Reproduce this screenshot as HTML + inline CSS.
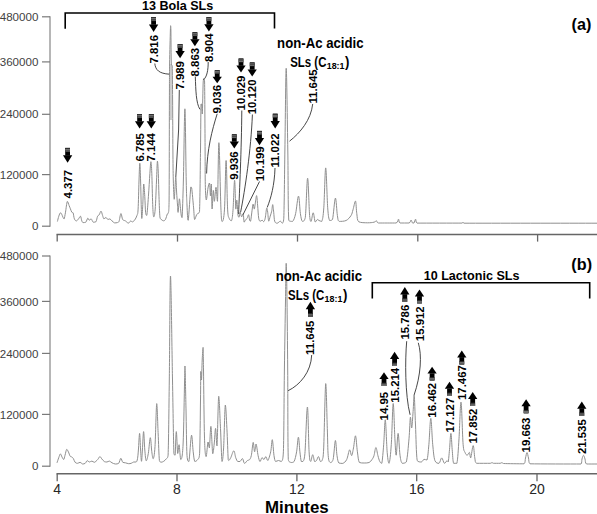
<!DOCTYPE html>
<html><head><meta charset="utf-8"><style>
html,body{margin:0;padding:0;background:#fff;}
body{width:597px;height:514px;overflow:hidden;}
svg{display:block;}
text{font-family:"Liberation Sans", sans-serif;}
</style></head><body>
<svg width="597" height="514" viewBox="0 0 597 514">
<rect width="597" height="514" fill="#fff"/>
<line x1="50" y1="16.2" x2="50" y2="226.79999999999998" stroke="#7a7a7a" stroke-width="1.1"/>
<line x1="42" y1="16.8" x2="50" y2="16.8" stroke="#7a7a7a" stroke-width="1.2"/>
<text x="38.4" y="20.9" text-anchor="end" font-family="Liberation Sans" font-size="11.6" fill="#3f3f3f">480000</text>
<line x1="42" y1="61.9" x2="50" y2="61.9" stroke="#7a7a7a" stroke-width="1.2"/>
<text x="38.4" y="66.0" text-anchor="end" font-family="Liberation Sans" font-size="11.6" fill="#3f3f3f">360000</text>
<line x1="42" y1="114.3" x2="50" y2="114.3" stroke="#7a7a7a" stroke-width="1.2"/>
<text x="38.4" y="118.4" text-anchor="end" font-family="Liberation Sans" font-size="11.6" fill="#3f3f3f">240000</text>
<line x1="42" y1="174.6" x2="50" y2="174.6" stroke="#7a7a7a" stroke-width="1.2"/>
<text x="38.4" y="178.7" text-anchor="end" font-family="Liberation Sans" font-size="11.6" fill="#3f3f3f">120000</text>
<line x1="42" y1="226.2" x2="50" y2="226.2" stroke="#7a7a7a" stroke-width="1.2"/>
<text x="38.4" y="230.3" text-anchor="end" font-family="Liberation Sans" font-size="11.6" fill="#3f3f3f">0</text>
<line x1="50" y1="255.4" x2="50" y2="466.8" stroke="#7a7a7a" stroke-width="1.1"/>
<line x1="42" y1="256.0" x2="50" y2="256.0" stroke="#7a7a7a" stroke-width="1.2"/>
<text x="38.4" y="260.1" text-anchor="end" font-family="Liberation Sans" font-size="11.6" fill="#3f3f3f">480000</text>
<line x1="42" y1="301.4" x2="50" y2="301.4" stroke="#7a7a7a" stroke-width="1.2"/>
<text x="38.4" y="305.5" text-anchor="end" font-family="Liberation Sans" font-size="11.6" fill="#3f3f3f">360000</text>
<line x1="42" y1="353.4" x2="50" y2="353.4" stroke="#7a7a7a" stroke-width="1.2"/>
<text x="38.4" y="357.5" text-anchor="end" font-family="Liberation Sans" font-size="11.6" fill="#3f3f3f">240000</text>
<line x1="42" y1="414.4" x2="50" y2="414.4" stroke="#7a7a7a" stroke-width="1.2"/>
<text x="38.4" y="418.5" text-anchor="end" font-family="Liberation Sans" font-size="11.6" fill="#3f3f3f">120000</text>
<line x1="42" y1="466.2" x2="50" y2="466.2" stroke="#7a7a7a" stroke-width="1.2"/>
<text x="38.4" y="470.3" text-anchor="end" font-family="Liberation Sans" font-size="11.6" fill="#3f3f3f">0</text>
<line x1="56.5" y1="234.4" x2="597" y2="234.4" stroke="#666666" stroke-width="1.5"/>
<line x1="57.2" y1="234.4" x2="57.2" y2="241.6" stroke="#666666" stroke-width="1.3"/>
<line x1="177.5" y1="234.4" x2="177.5" y2="241.6" stroke="#666666" stroke-width="1.3"/>
<line x1="297.5" y1="234.4" x2="297.5" y2="241.6" stroke="#666666" stroke-width="1.3"/>
<line x1="417.8" y1="234.4" x2="417.8" y2="241.6" stroke="#666666" stroke-width="1.3"/>
<line x1="537.6" y1="234.4" x2="537.6" y2="241.6" stroke="#666666" stroke-width="1.3"/>
<line x1="56.5" y1="473.8" x2="597" y2="473.8" stroke="#666666" stroke-width="1.5"/>
<line x1="57.2" y1="473.8" x2="57.2" y2="481.2" stroke="#666666" stroke-width="1.3"/>
<line x1="177.0" y1="473.8" x2="177.0" y2="481.2" stroke="#666666" stroke-width="1.3"/>
<line x1="296.9" y1="473.8" x2="296.9" y2="481.2" stroke="#666666" stroke-width="1.3"/>
<line x1="416.7" y1="473.8" x2="416.7" y2="481.2" stroke="#666666" stroke-width="1.3"/>
<line x1="537.0" y1="473.8" x2="537.0" y2="481.2" stroke="#666666" stroke-width="1.3"/>
<text x="57.2" y="493.6" text-anchor="middle" font-family="Liberation Sans" font-size="14" fill="#262626">4</text>
<text x="177.0" y="493.6" text-anchor="middle" font-family="Liberation Sans" font-size="14" fill="#262626">8</text>
<text x="296.9" y="493.6" text-anchor="middle" font-family="Liberation Sans" font-size="14" fill="#262626">12</text>
<text x="416.7" y="493.6" text-anchor="middle" font-family="Liberation Sans" font-size="14" fill="#262626">16</text>
<text x="537.0" y="493.6" text-anchor="middle" font-family="Liberation Sans" font-size="14" fill="#262626">20</text>
<text x="296.8" y="513" text-anchor="middle" font-family="Liberation Sans" font-weight="bold" font-size="16.9" fill="#000">Minutes</text>
<rect x="169.5" y="64" width="2.4" height="56" fill="#cdcdcd"/>
<path d="M57.40,221.50 C57.64,220.57 58.27,217.72 58.80,216.20 C59.32,214.68 59.89,213.15 60.40,212.80 C60.91,212.80 61.28,213.48 61.70,214.20 C62.12,214.92 62.38,216.08 62.80,216.90 C63.22,217.72 63.63,218.90 64.10,218.90 C64.57,218.08 64.94,215.26 65.50,212.20 C66.06,209.14 66.67,202.57 67.30,201.40 C67.93,201.40 68.56,204.21 69.10,205.50 C69.64,206.79 69.93,207.63 70.40,208.80 C70.87,209.97 71.33,211.50 71.80,212.20 C72.27,212.80 72.64,212.20 73.10,212.80 C73.55,213.97 73.82,217.48 74.40,218.90 C74.98,220.32 75.68,220.90 76.40,220.90 C77.12,220.90 77.78,219.72 78.50,218.90 C79.22,218.08 79.92,216.20 80.50,216.20 C81.08,216.55 81.34,219.78 81.80,220.90 C82.25,222.02 82.40,222.37 83.10,222.60 C83.80,222.60 84.98,222.60 85.80,222.20 C86.62,221.43 87.20,218.55 87.80,218.20 C88.39,218.20 88.61,220.08 89.20,220.20 C89.80,220.20 90.50,218.90 91.20,218.90 C91.90,219.25 92.38,221.69 93.20,222.20 C94.02,222.20 95.13,222.20 95.90,221.80 C96.67,220.75 97.02,217.42 97.60,216.20 C98.18,214.97 98.61,215.69 99.20,214.80 C99.80,213.91 100.41,211.10 101.00,211.10 C101.59,211.22 102.09,214.13 102.60,215.50 C103.11,216.87 103.32,218.55 103.90,218.90 C104.48,218.90 105.20,217.50 105.90,217.50 C106.60,217.60 107.20,219.25 107.90,219.50 C108.60,219.50 109.18,218.90 109.90,218.90 C110.62,219.15 111.18,220.20 112.00,220.90 C112.82,221.60 113.67,222.60 114.60,222.90 C115.53,222.90 116.53,222.84 117.30,222.60 C118.07,222.35 118.37,222.60 119.00,221.50 C119.63,219.91 120.25,213.85 120.90,213.50 C121.55,213.50 121.91,218.21 122.70,219.50 C123.49,220.79 124.40,220.27 125.40,220.90 C126.40,221.53 127.47,223.10 128.40,223.10 C129.33,223.10 130.02,221.11 130.70,220.90 C131.38,220.90 131.60,221.90 132.30,221.90 C133.00,221.74 133.88,221.14 134.70,220.00 C135.52,218.86 136.41,217.31 137.00,215.40 C137.59,213.49 137.75,215.12 138.10,209.10 C138.45,203.08 138.70,189.03 139.00,181.00 C139.30,172.97 139.52,163.20 139.80,163.20 C140.08,163.20 140.35,173.77 140.60,181.00 C140.84,188.23 140.99,197.94 141.20,204.50 C141.41,211.06 141.52,218.50 141.80,218.50 C142.08,218.50 142.47,210.54 142.80,204.50 C143.13,198.46 143.35,185.37 143.70,184.00 C144.05,184.00 144.47,191.75 144.80,196.70 C145.13,201.65 145.25,209.03 145.60,212.30 C145.95,215.40 146.31,215.40 146.80,215.40 C147.29,212.67 147.86,204.07 148.40,196.70 C148.94,189.33 149.46,179.43 149.90,173.30 C150.34,167.18 150.57,161.70 150.90,161.70 C151.23,161.70 151.49,165.81 151.80,173.30 C152.12,180.79 152.37,196.87 152.70,204.50 C153.03,212.13 153.26,216.09 153.70,216.90 C154.14,216.90 154.71,215.38 155.20,209.10 C155.69,202.82 156.12,189.38 156.50,181.00 C156.88,172.62 157.09,162.55 157.40,161.20 C157.72,161.20 158.02,167.09 158.30,173.30 C158.58,179.51 158.72,189.07 159.00,196.70 C159.28,204.33 159.53,212.94 159.90,216.90 C160.27,219.30 160.47,218.62 161.10,219.30 C161.73,219.98 162.73,220.80 163.50,220.80 C164.27,220.80 164.82,220.53 165.50,219.30 C166.18,218.08 166.91,214.85 167.40,213.80 C167.89,213.30 168.00,213.80 168.30,213.30 C168.60,210.89 168.91,213.30 169.10,200.00 C169.29,180.17 169.31,123.80 169.40,100.00 C169.49,76.20 169.42,76.25 169.60,64.00 C169.78,51.75 170.22,36.70 170.40,30.00 C170.58,25.70 170.51,25.70 170.60,25.70 C170.69,25.70 170.78,25.70 170.90,30.00 C171.02,36.70 171.07,57.70 171.30,64.00 C171.53,66.00 171.97,64.00 172.20,66.00 C172.43,72.30 172.48,85.30 172.60,100.00 C172.72,114.70 172.78,136.00 172.90,150.00 C173.02,164.00 173.07,171.37 173.30,180.00 C173.53,188.63 173.90,197.90 174.20,199.30 C174.50,199.30 174.72,191.90 175.00,188.00 C175.28,184.10 175.52,177.00 175.80,177.00 C176.08,177.70 176.30,187.10 176.60,192.00 C176.90,196.90 177.24,201.43 177.50,205.00 C177.76,208.57 177.77,212.40 178.10,212.40 C178.43,211.31 179.02,199.87 179.40,198.80 C179.78,198.80 179.99,203.47 180.30,206.30 C180.62,209.14 180.88,213.02 181.20,215.00 C181.51,216.98 181.72,217.60 182.10,217.60 C182.48,211.47 182.91,199.04 183.40,180.00 C183.89,160.96 184.41,108.80 184.90,108.80 C185.39,108.80 185.83,163.16 186.20,180.00 C186.57,196.84 186.65,197.95 187.00,205.00 C187.35,212.05 187.53,220.30 188.20,220.30 C188.86,217.15 190.19,192.65 190.80,187.00 C191.41,187.00 191.21,187.00 191.70,188.00 C192.19,191.66 193.09,202.39 193.60,207.90 C194.11,213.41 194.09,218.26 194.60,219.50 C195.11,219.50 195.99,216.02 196.50,215.00 C197.01,213.98 196.97,214.28 197.50,213.70 C198.03,213.12 198.97,213.70 199.50,211.70 C200.03,200.55 200.24,168.85 200.50,150.00 C200.76,131.15 200.81,112.05 201.00,104.00 C201.19,104.00 201.37,104.00 201.60,104.00 C201.83,105.75 202.02,114.00 202.30,114.00 C202.58,110.15 202.92,88.21 203.20,82.00 C203.48,78.50 203.66,78.50 203.90,78.50 C204.15,78.50 204.39,78.50 204.60,82.00 C204.81,94.51 204.98,132.06 205.10,150.00 C205.22,167.94 205.10,175.75 205.30,184.50 C205.51,193.25 205.83,199.39 206.30,200.00 C206.77,200.00 207.44,190.97 208.00,188.00 C208.56,185.03 209.06,183.00 209.50,183.00 C209.94,184.40 210.19,195.82 210.50,196.00 C210.81,196.00 211.02,184.00 211.30,184.00 C211.58,186.28 211.75,207.88 212.10,209.00 C212.45,209.00 212.90,191.75 213.30,190.40 C213.70,190.40 213.93,201.30 214.40,201.30 C214.87,200.76 215.46,187.30 216.00,187.30 C216.54,187.30 216.99,201.30 217.50,201.30 C218.01,193.50 218.31,142.70 218.90,142.70 C219.50,143.85 220.32,194.11 220.90,207.90 C221.48,221.50 221.57,221.29 222.20,221.50 C222.83,221.50 223.82,219.78 224.50,209.10 C225.18,198.42 225.56,160.50 226.10,160.50 C226.64,160.50 227.06,198.97 227.60,209.10 C228.14,218.40 228.52,216.37 229.20,218.40 C229.88,220.43 230.84,220.70 231.50,220.70 C232.16,219.26 232.46,217.27 233.00,210.20 C233.54,203.13 234.11,180.49 234.60,180.30 C235.09,180.30 235.42,205.63 235.80,209.10 C236.19,209.10 236.42,200.10 236.80,200.10 C237.19,201.17 237.60,212.21 238.00,215.20 C238.40,217.20 238.73,217.20 239.10,217.20 C239.47,216.67 239.66,212.27 240.10,212.20 C240.54,212.20 241.06,216.54 241.60,216.80 C242.14,216.80 242.76,213.70 243.20,213.70 C243.64,214.64 243.68,221.15 244.10,222.20 C244.52,222.20 245.07,220.36 245.60,219.70 C246.12,219.03 246.57,219.28 247.10,218.40 C247.62,217.53 248.16,214.70 248.60,214.70 C249.04,215.01 249.25,219.06 249.60,220.20 C249.95,221.20 250.16,221.20 250.60,221.20 C251.04,219.45 251.66,213.19 252.10,210.20 C252.54,207.21 252.72,204.29 253.10,204.10 C253.48,204.10 253.92,209.10 254.30,209.10 C254.69,208.92 254.90,205.46 255.30,203.10 C255.70,200.74 256.20,195.60 256.60,195.60 C257.00,195.95 257.23,201.14 257.60,205.10 C257.97,209.06 258.25,215.38 258.70,218.20 C259.15,221.02 259.59,220.85 260.20,221.20 C260.81,221.20 261.59,220.20 262.20,220.20 C262.81,220.29 263.18,221.70 263.70,221.70 C264.22,221.35 264.68,220.58 265.20,218.20 C265.72,215.82 266.26,209.15 266.70,208.10 C267.14,208.10 267.35,209.91 267.70,212.20 C268.05,214.49 268.26,220.50 268.70,221.20 C269.14,221.20 269.68,217.95 270.20,216.20 C270.72,214.45 271.26,213.23 271.70,211.20 C272.14,209.17 272.35,204.60 272.70,204.60 C273.05,204.78 273.35,209.29 273.70,212.20 C274.05,215.10 274.09,219.27 274.70,221.20 C275.31,223.12 276.22,223.20 277.20,223.20 C278.18,223.20 279.41,221.20 280.30,221.20 C281.19,221.20 281.69,223.20 282.30,223.20 C282.91,222.67 283.35,223.20 283.80,218.20 C284.25,205.39 284.48,176.23 284.90,150.00 C285.32,123.77 285.69,68.30 286.20,68.30 C286.71,68.30 287.35,123.37 287.80,150.00 C288.25,176.63 287.96,208.00 288.80,220.50 C289.64,221.40 291.41,221.40 292.60,221.40 C293.79,220.21 294.57,218.13 295.60,213.70 C296.63,209.27 297.66,196.10 298.50,196.10 C299.34,196.10 299.72,209.27 300.40,213.70 C301.08,218.13 301.54,220.74 302.40,221.40 C303.26,221.40 304.39,221.40 305.30,217.50 C306.21,209.94 306.85,178.53 307.60,178.20 C308.35,178.20 308.99,208.04 309.60,215.60 C310.21,221.40 310.47,221.40 311.10,221.40 C311.73,220.91 312.48,212.80 313.20,212.80 C313.92,212.91 314.48,220.83 315.20,222.00 C315.92,222.00 316.63,219.76 317.30,219.50 C317.97,219.50 318.21,220.17 319.00,220.50 C319.79,220.83 320.96,221.40 321.80,221.40 C322.64,219.18 323.12,217.16 323.80,207.80 C324.48,198.44 325.02,167.90 325.70,167.90 C326.38,167.90 327.02,198.60 327.70,207.80 C328.38,217.00 328.76,218.45 329.60,220.50 C330.44,220.50 331.49,220.50 332.50,219.50 C333.51,215.58 334.54,198.78 335.40,198.10 C336.26,198.10 336.72,211.52 337.40,215.60 C338.08,219.68 337.78,220.54 339.30,221.40 C340.82,221.40 344.05,221.40 346.10,220.50 C348.15,219.48 349.79,217.47 351.00,215.60 C352.21,213.73 352.21,212.36 353.00,209.80 C353.79,207.25 354.83,201.00 355.50,201.00 C356.17,201.68 356.22,210.06 356.80,213.70 C357.38,217.34 356.93,220.21 358.80,221.80 C360.67,222.80 364.84,222.73 367.50,222.80 C370.16,222.80 372.43,222.55 374.00,222.20 C375.57,221.85 375.71,220.80 376.50,220.80 C377.29,220.94 376.50,222.62 378.50,223.00 C381.91,223.00 392.50,223.00 396.00,223.00 C398.50,222.34 397.80,219.20 398.50,219.20 C399.20,219.20 398.50,222.34 400.00,223.00 C401.84,223.00 407.07,223.00 409.00,223.00 C410.93,222.47 410.39,220.00 411.00,220.00 C411.61,220.00 411.98,222.47 412.50,223.00 C413.02,223.00 413.46,223.00 414.00,223.00 C414.54,222.34 415.08,219.20 415.60,219.20 C416.12,219.22 415.60,222.42 417.00,223.10 C425.12,223.10 453.95,223.10 462.00,223.10 C463.00,222.94 462.65,222.20 463.00,222.20 C463.35,222.22 463.00,223.02 464.00,223.20 C487.45,223.20 573.73,223.20 597.00,223.20" fill="none" stroke="#8f8f8f" stroke-width="1.0" stroke-linejoin="round"/>
<path d="M57.00,462.80 C57.30,461.93 58.11,459.36 58.70,457.80 C59.30,456.24 59.82,454.04 60.40,453.90 C60.98,453.90 61.42,456.02 62.00,457.00 C62.58,457.98 63.18,459.50 63.70,459.50 C64.23,459.20 64.47,457.07 65.00,455.30 C65.53,453.53 66.11,450.00 66.70,449.40 C67.30,449.40 67.81,450.73 68.40,451.90 C69.00,453.07 69.50,455.21 70.10,456.10 C70.69,456.99 71.22,456.56 71.80,457.00 C72.38,457.44 72.82,457.67 73.40,458.60 C73.98,459.53 74.36,461.48 75.10,462.30 C75.83,463.12 76.72,463.30 77.60,463.30 C78.47,463.30 79.22,462.30 80.10,462.30 C80.97,462.42 81.71,463.82 82.60,464.00 C83.49,464.00 84.39,463.89 85.20,463.30 C86.01,462.71 86.48,460.83 87.20,460.60 C87.92,460.60 88.48,461.91 89.30,462.00 C90.12,462.00 91.01,461.10 91.90,461.10 C92.79,461.15 93.39,462.30 94.40,462.30 C95.42,462.02 96.74,460.50 97.70,459.50 C98.66,458.50 99.17,456.69 99.90,456.60 C100.64,456.60 101.11,458.12 101.90,459.00 C102.69,459.88 103.53,461.08 104.40,461.60 C105.28,462.00 106.03,462.00 106.90,462.00 C107.78,461.91 108.51,461.10 109.40,461.10 C110.29,461.24 110.97,462.29 112.00,462.80 C113.03,463.31 114.13,463.91 115.30,464.00 C116.47,464.00 117.74,464.00 118.70,463.30 C119.66,462.30 120.08,458.48 120.80,458.30 C121.52,458.30 121.99,461.51 122.80,462.30 C123.61,462.80 124.37,462.56 125.40,462.80 C126.43,463.05 127.68,463.61 128.70,463.70 C129.71,463.70 130.32,463.60 131.20,463.30 C132.07,463.00 132.82,462.23 133.70,462.00 C134.57,462.00 135.53,462.00 136.20,462.00 C136.86,461.42 137.12,460.80 137.50,458.70 C137.88,456.60 138.03,454.43 138.40,450.00 C138.77,445.57 139.22,433.40 139.60,433.40 C139.98,433.40 140.27,445.12 140.60,450.00 C140.93,454.88 141.19,461.30 141.50,461.30 C141.81,461.30 142.03,455.20 142.40,450.00 C142.77,444.80 143.18,431.60 143.60,431.60 C144.02,431.60 144.34,444.89 144.80,450.00 C145.26,455.11 145.59,460.19 146.20,460.80 C146.81,460.80 147.58,457.54 148.30,453.50 C149.02,449.46 149.69,438.01 150.30,437.70 C150.91,437.70 151.29,448.02 151.80,451.70 C152.31,455.38 152.64,458.70 153.20,458.70 C153.76,457.79 154.39,456.14 155.00,446.50 C155.61,436.86 156.16,406.05 156.70,403.60 C157.24,403.60 157.63,422.54 158.10,432.50 C158.57,442.46 158.88,455.30 159.40,460.50 C159.93,462.20 160.35,462.06 161.10,462.20 C161.85,462.20 162.77,461.91 163.70,461.30 C164.63,460.69 165.63,459.77 166.40,458.70 C167.17,457.63 167.59,458.70 168.10,455.20 C168.61,441.43 168.88,411.36 169.30,380.00 C169.72,348.64 169.94,276.00 170.50,276.00 C171.06,276.00 171.91,348.94 172.50,380.00 C173.09,411.06 173.44,440.34 173.90,453.50 C174.36,455.20 174.68,455.20 175.10,455.20 C175.52,451.37 175.84,431.90 176.30,431.60 C176.76,431.60 177.21,451.21 177.70,453.50 C178.19,453.50 178.56,444.70 179.10,444.70 C179.64,445.75 180.10,459.50 180.80,459.50 C181.50,459.38 182.44,457.91 183.10,444.00 C183.76,430.09 184.27,393.65 184.60,380.00 C184.93,366.35 184.75,366.00 185.00,366.00 C185.25,371.06 185.65,393.22 186.00,408.90 C186.35,424.58 186.49,446.40 187.00,455.60 C187.51,461.50 188.11,461.50 188.90,461.50 C189.69,457.93 190.75,436.90 191.50,435.20 C192.25,435.20 192.62,447.20 193.20,451.80 C193.78,456.40 194.01,460.15 194.80,461.50 C195.59,461.50 196.86,460.87 197.70,459.50 C198.54,458.13 199.11,459.50 199.60,453.70 C200.09,443.29 200.29,414.40 200.50,400.00 C200.71,385.60 200.62,374.90 200.80,371.40 C200.98,371.40 201.25,380.00 201.50,380.00 C201.75,378.00 201.92,365.70 202.20,360.00 C202.48,354.30 202.87,347.40 203.10,347.40 C203.33,349.15 203.25,354.13 203.50,370.00 C203.75,385.87 204.04,422.94 204.50,438.10 C204.96,453.26 205.49,455.92 206.10,456.60 C206.71,456.60 207.42,443.52 208.00,442.00 C208.58,442.00 208.89,447.90 209.40,447.90 C209.91,445.17 210.32,426.40 210.90,426.40 C211.48,427.41 212.12,450.62 212.70,453.70 C213.28,453.70 213.69,448.43 214.20,444.00 C214.71,439.57 215.11,428.40 215.60,428.40 C216.09,428.73 216.46,445.90 217.00,445.90 C217.54,440.28 218.09,399.36 218.70,396.30 C219.31,396.30 219.92,416.99 220.50,428.40 C221.08,439.81 221.46,458.09 222.00,461.50 C222.54,461.50 223.02,457.79 223.60,447.90 C224.18,438.01 224.72,408.41 225.30,405.00 C225.88,405.00 226.39,418.86 226.90,428.40 C227.41,437.94 227.85,453.88 228.20,459.50 C228.55,460.50 228.44,460.50 228.90,460.50 C229.36,460.17 229.94,459.30 230.80,457.60 C231.66,455.90 232.94,450.80 233.80,450.80 C234.66,450.80 235.02,455.73 235.70,457.60 C236.38,459.47 236.95,460.82 237.70,461.50 C238.45,461.50 239.16,461.50 240.00,461.50 C240.84,460.99 241.71,458.60 242.50,458.60 C243.29,458.93 243.64,463.07 244.50,463.40 C245.36,463.40 246.56,461.11 247.40,460.50 C248.24,459.90 248.62,460.50 249.30,459.90 C249.98,459.04 250.62,458.66 251.30,455.60 C251.98,452.54 252.62,443.06 253.20,442.40 C253.78,442.40 254.09,451.52 254.60,451.80 C255.11,451.80 255.49,444.00 256.10,444.00 C256.71,444.67 257.42,452.54 258.10,455.60 C258.78,458.66 259.32,461.15 260.00,461.50 C260.68,461.50 261.32,457.95 262.00,457.60 C262.68,457.60 263.22,459.50 263.90,459.50 C264.58,459.32 265.22,456.60 265.90,456.60 C266.58,456.78 266.96,460.50 267.80,460.50 C268.64,459.66 269.91,455.44 270.70,451.80 C271.49,448.16 271.72,439.70 272.30,439.70 C272.88,440.37 273.42,451.79 274.00,455.60 C274.58,459.42 274.81,460.64 275.60,461.50 C276.39,461.50 277.49,460.50 278.50,460.50 C279.51,460.50 280.54,461.50 281.40,461.50 C282.26,459.98 282.88,461.50 283.40,451.80 C283.92,435.79 284.03,396.56 284.40,370.00 C284.77,343.44 285.19,318.67 285.50,300.00 C285.81,281.33 285.94,263.30 286.20,263.30 C286.46,263.30 286.74,281.33 287.00,300.00 C287.26,318.67 287.47,342.09 287.70,370.00 C287.93,397.91 287.70,443.31 288.30,459.50 C288.91,462.50 290.19,462.15 291.20,462.50 C292.21,462.50 293.16,462.50 294.10,461.50 C295.05,459.63 295.85,456.05 296.60,451.80 C297.35,447.55 297.82,437.20 298.40,437.20 C298.98,437.20 299.39,447.55 299.90,451.80 C300.41,456.05 300.78,459.80 301.30,461.50 C301.82,461.50 302.27,461.50 302.90,461.50 C303.53,460.13 304.11,461.50 304.90,453.70 C305.69,444.16 306.66,407.33 307.40,407.00 C308.13,407.00 308.52,442.26 309.10,451.80 C309.68,461.34 310.07,460.99 310.70,461.50 C311.33,461.50 312.02,454.70 312.70,454.70 C313.38,454.70 313.94,460.49 314.60,461.50 C315.27,461.50 315.82,461.36 316.50,460.50 C317.18,459.64 317.82,456.60 318.50,456.60 C319.18,456.78 319.72,460.99 320.40,461.50 C321.08,461.50 321.82,461.50 322.40,459.50 C322.98,457.12 323.12,459.50 323.70,447.90 C324.28,434.62 325.07,387.01 325.70,383.60 C326.33,383.60 326.86,415.80 327.30,428.40 C327.74,441.00 327.69,449.63 328.20,455.60 C328.71,461.57 329.34,461.82 330.20,462.50 C331.06,462.50 332.19,462.50 333.10,459.50 C334.01,455.65 334.72,441.18 335.40,440.50 C336.08,440.50 336.39,451.66 337.00,455.60 C337.61,459.54 337.88,461.63 338.90,463.00 C339.91,463.40 341.44,463.40 342.80,463.40 C344.17,462.79 345.51,461.88 346.70,459.50 C347.89,457.12 348.74,450.48 349.60,449.80 C350.46,449.80 350.92,455.60 351.60,455.60 C352.28,455.27 352.82,451.36 353.50,447.90 C354.18,444.44 354.82,435.80 355.50,435.80 C356.18,436.48 356.72,447.13 357.40,451.80 C358.08,456.47 358.21,460.54 359.40,462.50 C360.59,463.00 362.50,463.00 364.20,463.00 C365.90,463.00 367.74,463.00 369.10,462.50 C370.47,461.89 371.14,460.71 372.00,459.50 C372.86,458.29 373.32,457.70 374.00,455.60 C374.68,453.50 375.22,447.50 375.90,447.50 C376.58,447.50 377.22,453.15 377.90,455.60 C378.58,458.05 379.12,460.15 379.80,461.50 C380.48,462.85 381.12,463.30 381.80,463.30 C382.48,460.29 383.09,451.91 383.70,444.30 C384.31,436.69 384.69,419.80 385.30,419.80 C385.91,421.22 386.53,444.79 387.20,452.40 C387.87,460.01 388.38,463.30 389.10,463.30 C389.82,461.88 390.58,454.76 391.30,444.30 C392.02,433.84 392.57,404.46 393.20,403.50 C393.83,403.50 394.38,429.75 394.90,438.80 C395.42,447.85 395.64,455.20 396.20,455.20 C396.76,454.25 397.44,433.40 398.10,433.40 C398.77,433.40 399.28,449.97 400.00,455.20 C400.72,460.43 401.10,462.11 402.20,463.30 C403.30,463.30 405.11,463.30 406.30,462.00 C407.49,457.71 408.28,446.66 409.00,438.80 C409.72,430.94 409.93,418.99 410.40,417.10 C410.87,417.10 411.23,428.00 411.70,428.00 C412.17,427.04 412.66,417.32 413.10,411.60 C413.54,405.88 413.78,395.30 414.20,395.30 C414.62,397.64 414.98,413.57 415.50,425.00 C416.02,436.43 416.19,454.12 417.20,460.60 C418.21,462.00 420.11,462.00 421.30,462.00 C422.49,461.77 423.00,459.65 424.00,459.30 C425.00,459.30 426.14,460.00 427.00,460.00 C427.86,457.38 428.23,451.58 428.90,444.30 C429.56,437.02 430.13,418.40 430.80,418.40 C431.47,418.40 431.98,436.92 432.70,444.30 C433.42,451.69 433.80,457.28 434.90,460.60 C436.00,463.30 437.81,463.30 439.00,463.30 C440.19,462.83 440.75,457.90 441.70,457.90 C442.64,457.90 443.45,462.83 444.40,463.30 C445.34,463.30 446.44,460.83 447.10,460.60 C447.77,460.60 447.78,462.00 448.20,462.00 C448.62,460.09 449.03,454.70 449.50,449.70 C449.97,444.69 450.43,433.40 450.90,433.40 C451.37,433.40 451.73,444.47 452.20,449.70 C452.67,454.93 452.78,460.92 453.60,463.30 C454.42,463.30 455.95,463.30 456.90,463.30 C457.84,459.01 458.28,449.51 459.00,438.80 C459.72,428.09 460.28,402.10 461.00,402.10 C461.72,403.06 462.40,435.50 463.10,444.30 C463.80,452.40 464.28,450.49 465.00,452.40 C465.72,454.31 466.43,455.20 467.20,455.20 C467.97,455.20 468.79,452.40 469.40,452.40 C470.01,452.87 470.03,457.90 470.70,457.90 C471.37,456.71 472.48,445.60 473.20,445.60 C473.92,445.60 474.19,454.80 474.80,457.90 C475.41,461.00 474.80,462.36 476.70,463.30 C479.41,463.30 487.62,463.30 490.30,463.30 C492.00,463.16 491.44,462.50 492.00,462.50 C492.56,462.50 492.10,463.16 493.50,463.30 C494.90,463.30 498.51,463.30 500.00,463.30 C501.49,463.18 501.39,462.60 502.00,462.60 C502.61,462.64 502.00,463.29 503.50,463.50 C507.35,463.71 520.15,463.80 524.00,463.80 C525.50,462.84 524.98,459.96 525.50,458.00 C526.02,456.04 526.48,452.60 527.00,452.60 C527.52,452.60 527.98,456.04 528.50,458.00 C529.02,459.96 528.50,462.75 530.00,463.80 C539.19,464.00 571.90,464.00 581.00,464.00 C582.00,463.16 581.56,460.52 582.00,459.00 C582.44,457.48 582.98,455.30 583.50,455.30 C584.02,455.30 584.48,457.48 585.00,459.00 C585.52,460.52 585.00,463.12 586.50,464.00 C588.60,464.00 595.16,464.00 597.00,464.00" fill="none" stroke="#8f8f8f" stroke-width="1.0" stroke-linejoin="round"/>
<path d="M65.2,28.8 V13 H274.5 V28.5" fill="none" stroke="#000" stroke-width="1.6"/>
<text x="177.6" y="9.8" text-anchor="middle" font-family="Liberation Sans" font-weight="bold" font-size="12.6" fill="#000">13 Bola SLs</text>
<text x="581.5" y="29.6" text-anchor="middle" font-family="Liberation Sans" font-weight="bold" font-size="16.2" fill="#000">(a)</text>
<text x="277.1" y="48.1" font-family="Liberation Sans" font-weight="bold" fill="#000" font-size="14.1" textLength="86.4" lengthAdjust="spacingAndGlyphs">non-Ac acidic</text><text x="290.2" y="67.2" font-family="Liberation Sans" font-weight="bold" fill="#000" font-size="14.1" textLength="36.2" lengthAdjust="spacingAndGlyphs">SLs (C</text><text x="326.7" y="68.5" font-family="Liberation Sans" font-weight="bold" fill="#000" font-size="9.2" textLength="17.8" lengthAdjust="spacingAndGlyphs">18:1</text><text x="345.0" y="67.2" font-family="Liberation Sans" font-weight="bold" fill="#000" font-size="14.1" textLength="4.4" lengthAdjust="spacingAndGlyphs">)</text>
<rect x="65.20" y="147.90" width="4.8" height="7.75" fill="#000"/><rect x="65.20" y="147.90" width="4.8" height="4.17" fill="#303030"/><rect x="65.20" y="149.15" width="4.8" height="0.7" fill="#8a8a8a"/><rect x="65.20" y="150.61" width="4.8" height="0.7" fill="#8a8a8a"/><polygon points="62.95,155.35 72.25,155.35 67.60,162.80" fill="#000"/>
<text transform="translate(71.68,198.40) rotate(-90)" font-family="Liberation Sans" font-weight="bold" font-size="11.4" fill="#000">4.377</text>
<rect x="137.20" y="114.00" width="4.8" height="7.60" fill="#000"/><rect x="137.20" y="114.00" width="4.8" height="4.09" fill="#303030"/><rect x="137.20" y="115.23" width="4.8" height="0.7" fill="#8a8a8a"/><rect x="137.20" y="116.66" width="4.8" height="0.7" fill="#8a8a8a"/><polygon points="134.95,121.30 144.25,121.30 139.60,128.60" fill="#000"/>
<text transform="translate(143.68,161.60) rotate(-90)" font-family="Liberation Sans" font-weight="bold" font-size="11.4" fill="#000">6.785</text>
<rect x="148.90" y="114.00" width="4.8" height="7.60" fill="#000"/><rect x="148.90" y="114.00" width="4.8" height="4.09" fill="#303030"/><rect x="148.90" y="115.23" width="4.8" height="0.7" fill="#8a8a8a"/><rect x="148.90" y="116.66" width="4.8" height="0.7" fill="#8a8a8a"/><polygon points="146.65,121.30 155.95,121.30 151.30,128.60" fill="#000"/>
<text transform="translate(155.38,161.60) rotate(-90)" font-family="Liberation Sans" font-weight="bold" font-size="11.4" fill="#000">7.144</text>
<rect x="151.20" y="17.00" width="4.8" height="7.75" fill="#000"/><rect x="151.20" y="17.00" width="4.8" height="4.17" fill="#303030"/><rect x="151.20" y="18.25" width="4.8" height="0.7" fill="#8a8a8a"/><rect x="151.20" y="19.71" width="4.8" height="0.7" fill="#8a8a8a"/><polygon points="148.95,24.45 158.25,24.45 153.60,31.90" fill="#000"/>
<text transform="translate(157.68,63.50) rotate(-90)" font-family="Liberation Sans" font-weight="bold" font-size="11.4" fill="#000">7.816</text>
<rect x="177.70" y="44.00" width="4.8" height="7.40" fill="#000"/><rect x="177.70" y="44.00" width="4.8" height="3.98" fill="#303030"/><rect x="177.70" y="45.19" width="4.8" height="0.7" fill="#8a8a8a"/><rect x="177.70" y="46.58" width="4.8" height="0.7" fill="#8a8a8a"/><polygon points="175.45,51.10 184.75,51.10 180.10,58.20" fill="#000"/>
<text transform="translate(184.18,89.60) rotate(-90)" font-family="Liberation Sans" font-weight="bold" font-size="11.4" fill="#000">7.989</text>
<rect x="192.50" y="32.20" width="4.8" height="7.30" fill="#000"/><rect x="192.50" y="32.20" width="4.8" height="3.92" fill="#303030"/><rect x="192.50" y="33.38" width="4.8" height="0.7" fill="#8a8a8a"/><rect x="192.50" y="34.75" width="4.8" height="0.7" fill="#8a8a8a"/><polygon points="190.25,39.20 199.55,39.20 194.90,46.20" fill="#000"/>
<text transform="translate(198.98,76.40) rotate(-90)" font-family="Liberation Sans" font-weight="bold" font-size="11.4" fill="#000">8.863</text>
<rect x="206.50" y="17.00" width="4.8" height="7.60" fill="#000"/><rect x="206.50" y="17.00" width="4.8" height="4.09" fill="#303030"/><rect x="206.50" y="18.23" width="4.8" height="0.7" fill="#8a8a8a"/><rect x="206.50" y="19.66" width="4.8" height="0.7" fill="#8a8a8a"/><polygon points="204.25,24.30 213.55,24.30 208.90,31.60" fill="#000"/>
<text transform="translate(212.98,61.90) rotate(-90)" font-family="Liberation Sans" font-weight="bold" font-size="11.4" fill="#000">8.904</text>
<rect x="214.80" y="70.10" width="4.8" height="6.90" fill="#000"/><rect x="214.80" y="70.10" width="4.8" height="3.70" fill="#303030"/><rect x="214.80" y="71.21" width="4.8" height="0.7" fill="#8a8a8a"/><rect x="214.80" y="72.50" width="4.8" height="0.7" fill="#8a8a8a"/><polygon points="212.55,76.70 221.85,76.70 217.20,83.30" fill="#000"/>
<text transform="translate(221.28,113.50) rotate(-90)" font-family="Liberation Sans" font-weight="bold" font-size="11.4" fill="#000">9.036</text>
<rect x="231.90" y="134.30" width="4.8" height="7.45" fill="#000"/><rect x="231.90" y="134.30" width="4.8" height="4.00" fill="#303030"/><rect x="231.90" y="135.50" width="4.8" height="0.7" fill="#8a8a8a"/><rect x="231.90" y="136.90" width="4.8" height="0.7" fill="#8a8a8a"/><polygon points="229.65,141.45 238.95,141.45 234.30,148.60" fill="#000"/>
<text transform="translate(238.38,179.80) rotate(-90)" font-family="Liberation Sans" font-weight="bold" font-size="11.4" fill="#000">9.936</text>
<rect x="238.60" y="58.50" width="4.8" height="7.30" fill="#000"/><rect x="238.60" y="58.50" width="4.8" height="3.92" fill="#303030"/><rect x="238.60" y="59.68" width="4.8" height="0.7" fill="#8a8a8a"/><rect x="238.60" y="61.05" width="4.8" height="0.7" fill="#8a8a8a"/><polygon points="236.35,65.50 245.65,65.50 241.00,72.50" fill="#000"/>
<text transform="translate(245.08,110.40) rotate(-90)" font-family="Liberation Sans" font-weight="bold" font-size="11.4" fill="#000">10.029</text>
<rect x="249.80" y="62.40" width="4.8" height="7.30" fill="#000"/><rect x="249.80" y="62.40" width="4.8" height="3.92" fill="#303030"/><rect x="249.80" y="63.58" width="4.8" height="0.7" fill="#8a8a8a"/><rect x="249.80" y="64.95" width="4.8" height="0.7" fill="#8a8a8a"/><polygon points="247.55,69.40 256.85,69.40 252.20,76.40" fill="#000"/>
<text transform="translate(256.28,114.30) rotate(-90)" font-family="Liberation Sans" font-weight="bold" font-size="11.4" fill="#000">10.120</text>
<rect x="257.10" y="130.90" width="4.8" height="7.45" fill="#000"/><rect x="257.10" y="130.90" width="4.8" height="4.00" fill="#303030"/><rect x="257.10" y="132.10" width="4.8" height="0.7" fill="#8a8a8a"/><rect x="257.10" y="133.50" width="4.8" height="0.7" fill="#8a8a8a"/><polygon points="254.85,138.05 264.15,138.05 259.50,145.20" fill="#000"/>
<text transform="translate(263.58,181.20) rotate(-90)" font-family="Liberation Sans" font-weight="bold" font-size="11.4" fill="#000">10.199</text>
<rect x="272.80" y="113.70" width="4.8" height="7.65" fill="#000"/><rect x="272.80" y="113.70" width="4.8" height="4.12" fill="#303030"/><rect x="272.80" y="114.93" width="4.8" height="0.7" fill="#8a8a8a"/><rect x="272.80" y="116.38" width="4.8" height="0.7" fill="#8a8a8a"/><polygon points="270.55,121.05 279.85,121.05 275.20,128.40" fill="#000"/>
<text transform="translate(279.28,167.60) rotate(-90)" font-family="Liberation Sans" font-weight="bold" font-size="11.4" fill="#000">11.022</text>
<text transform="translate(316.78,103.60) rotate(-90)" font-family="Liberation Sans" font-weight="bold" font-size="11.4" fill="#000">11.645</text>
<path d="M154.8,63.5 C155.5,70 159,73.5 169.4,74.2" fill="none" stroke="#333" stroke-width="0.9"/>
<path d="M179.3,90 L178.6,130 L175.8,177" fill="none" stroke="#333" stroke-width="0.9"/>
<path d="M195.3,76.5 C195.8,90 196,103 199.9,109.3" fill="none" stroke="#333" stroke-width="0.9"/>
<path d="M208.2,62 C208.2,70 207,77 203.4,79.8" fill="none" stroke="#333" stroke-width="0.9"/>
<path d="M217.2,113.8 C212,130 207,150 206.6,173.5" fill="none" stroke="#333" stroke-width="0.9"/>
<path d="M241.8,110.5 C241.5,150 239.5,190 238.6,214" fill="none" stroke="#333" stroke-width="0.9"/>
<path d="M252.4,114.5 C251,150 245,190 240.6,212.2" fill="none" stroke="#333" stroke-width="0.9"/>
<path d="M259.5,181.5 L243.1,214.5" fill="none" stroke="#333" stroke-width="0.9"/>
<path d="M275.0,168 C274.5,185 271,198 267.2,207.5" fill="none" stroke="#333" stroke-width="0.9"/>
<path d="M312.7,104 C311,120 300,133 289.5,141.2" fill="none" stroke="#333" stroke-width="0.9"/>
<path d="M372.3,298.4 V282.8 H589.7 V298.6" fill="none" stroke="#000" stroke-width="1.6"/>
<text x="471.6" y="280.0" text-anchor="middle" font-family="Liberation Sans" font-weight="bold" font-size="12.6" fill="#000">10 Lactonic SLs</text>
<text x="581.7" y="270.2" text-anchor="middle" font-family="Liberation Sans" font-weight="bold" font-size="16.2" fill="#000">(b)</text>
<text x="275.7" y="281.1" font-family="Liberation Sans" font-weight="bold" fill="#000" font-size="14.1" textLength="86.4" lengthAdjust="spacingAndGlyphs">non-Ac acidic</text><text x="288.1" y="300.2" font-family="Liberation Sans" font-weight="bold" fill="#000" font-size="14.1" textLength="36.2" lengthAdjust="spacingAndGlyphs">SLs (C</text><text x="324.6" y="301.5" font-family="Liberation Sans" font-weight="bold" fill="#000" font-size="9.2" textLength="17.8" lengthAdjust="spacingAndGlyphs">18:1</text><text x="342.9" y="300.2" font-family="Liberation Sans" font-weight="bold" fill="#000" font-size="14.1" textLength="4.4" lengthAdjust="spacingAndGlyphs">)</text>
<polygon points="305.75,309.30 315.05,309.30 310.40,301.80" fill="#000"/><rect x="308.00" y="309.00" width="4.8" height="7.80" fill="#000"/><rect x="308.00" y="313.20" width="4.8" height="3.60" fill="#303030"/><rect x="308.00" y="314.46" width="4.8" height="0.7" fill="#8a8a8a"/><rect x="308.00" y="315.72" width="4.8" height="0.7" fill="#8a8a8a"/>
<text transform="translate(314.48,354.90) rotate(-90)" font-family="Liberation Sans" font-weight="bold" font-size="11.4" fill="#000">11.645</text>
<polygon points="379.35,379.10 388.65,379.10 384.00,372.20" fill="#000"/><rect x="381.60" y="378.80" width="4.8" height="7.20" fill="#000"/><rect x="381.60" y="382.69" width="4.8" height="3.31" fill="#303030"/><rect x="381.60" y="383.85" width="4.8" height="0.7" fill="#8a8a8a"/><rect x="381.60" y="385.01" width="4.8" height="0.7" fill="#8a8a8a"/>
<text transform="translate(388.08,420.40) rotate(-90)" font-family="Liberation Sans" font-weight="bold" font-size="11.4" fill="#000">14.95</text>
<polygon points="389.95,358.90 399.25,358.90 394.60,351.80" fill="#000"/><rect x="392.20" y="358.60" width="4.8" height="7.40" fill="#000"/><rect x="392.20" y="362.59" width="4.8" height="3.41" fill="#303030"/><rect x="392.20" y="363.78" width="4.8" height="0.7" fill="#8a8a8a"/><rect x="392.20" y="364.98" width="4.8" height="0.7" fill="#8a8a8a"/>
<text transform="translate(398.68,402.70) rotate(-90)" font-family="Liberation Sans" font-weight="bold" font-size="11.4" fill="#000">15.214</text>
<polygon points="400.15,294.50 409.45,294.50 404.80,287.10" fill="#000"/><rect x="402.40" y="294.20" width="4.8" height="7.70" fill="#000"/><rect x="402.40" y="298.35" width="4.8" height="3.55" fill="#303030"/><rect x="402.40" y="299.59" width="4.8" height="0.7" fill="#8a8a8a"/><rect x="402.40" y="300.83" width="4.8" height="0.7" fill="#8a8a8a"/>
<text transform="translate(408.88,339.60) rotate(-90)" font-family="Liberation Sans" font-weight="bold" font-size="11.4" fill="#000">15.786</text>
<polygon points="414.85,296.40 424.15,296.40 419.50,289.40" fill="#000"/><rect x="417.10" y="296.10" width="4.8" height="7.30" fill="#000"/><rect x="417.10" y="300.04" width="4.8" height="3.36" fill="#303030"/><rect x="417.10" y="301.22" width="4.8" height="0.7" fill="#8a8a8a"/><rect x="417.10" y="302.39" width="4.8" height="0.7" fill="#8a8a8a"/>
<text transform="translate(423.58,341.20) rotate(-90)" font-family="Liberation Sans" font-weight="bold" font-size="11.4" fill="#000">15.912</text>
<polygon points="427.45,373.60 436.75,373.60 432.10,366.70" fill="#000"/><rect x="429.70" y="373.30" width="4.8" height="7.20" fill="#000"/><rect x="429.70" y="377.19" width="4.8" height="3.31" fill="#303030"/><rect x="429.70" y="378.35" width="4.8" height="0.7" fill="#8a8a8a"/><rect x="429.70" y="379.51" width="4.8" height="0.7" fill="#8a8a8a"/>
<text transform="translate(436.18,417.70) rotate(-90)" font-family="Liberation Sans" font-weight="bold" font-size="11.4" fill="#000">16.462</text>
<polygon points="444.85,388.85 454.15,388.85 449.50,381.70" fill="#000"/><rect x="447.10" y="388.55" width="4.8" height="7.45" fill="#000"/><rect x="447.10" y="392.57" width="4.8" height="3.43" fill="#303030"/><rect x="447.10" y="393.77" width="4.8" height="0.7" fill="#8a8a8a"/><rect x="447.10" y="394.97" width="4.8" height="0.7" fill="#8a8a8a"/>
<text transform="translate(453.58,432.60) rotate(-90)" font-family="Liberation Sans" font-weight="bold" font-size="11.4" fill="#000">17.127</text>
<polygon points="457.15,357.45 466.45,357.45 461.80,350.40" fill="#000"/><rect x="459.40" y="357.15" width="4.8" height="7.35" fill="#000"/><rect x="459.40" y="361.12" width="4.8" height="3.38" fill="#303030"/><rect x="459.40" y="362.30" width="4.8" height="0.7" fill="#8a8a8a"/><rect x="459.40" y="363.48" width="4.8" height="0.7" fill="#8a8a8a"/>
<text transform="translate(465.88,400.00) rotate(-90)" font-family="Liberation Sans" font-weight="bold" font-size="11.4" fill="#000">17.467</text>
<polygon points="468.05,399.00 477.35,399.00 472.70,392.00" fill="#000"/><rect x="470.30" y="398.70" width="4.8" height="7.30" fill="#000"/><rect x="470.30" y="402.64" width="4.8" height="3.36" fill="#303030"/><rect x="470.30" y="403.82" width="4.8" height="0.7" fill="#8a8a8a"/><rect x="470.30" y="404.99" width="4.8" height="0.7" fill="#8a8a8a"/>
<text transform="translate(476.78,443.50) rotate(-90)" font-family="Liberation Sans" font-weight="bold" font-size="11.4" fill="#000">17.852</text>
<polygon points="521.45,406.30 530.75,406.30 526.10,399.30" fill="#000"/><rect x="523.70" y="406.00" width="4.8" height="7.30" fill="#000"/><rect x="523.70" y="409.94" width="4.8" height="3.36" fill="#303030"/><rect x="523.70" y="411.12" width="4.8" height="0.7" fill="#8a8a8a"/><rect x="523.70" y="412.29" width="4.8" height="0.7" fill="#8a8a8a"/>
<text transform="translate(530.18,452.40) rotate(-90)" font-family="Liberation Sans" font-weight="bold" font-size="11.4" fill="#000">19.663</text>
<polygon points="577.15,408.65 586.45,408.65 581.80,401.40" fill="#000"/><rect x="579.40" y="408.35" width="4.8" height="7.55" fill="#000"/><rect x="579.40" y="412.42" width="4.8" height="3.48" fill="#303030"/><rect x="579.40" y="413.64" width="4.8" height="0.7" fill="#8a8a8a"/><rect x="579.40" y="414.86" width="4.8" height="0.7" fill="#8a8a8a"/>
<text transform="translate(585.88,454.10) rotate(-90)" font-family="Liberation Sans" font-weight="bold" font-size="11.4" fill="#000">21.535</text>
<path d="M311.7,355 C311,372 300,385 288.1,390.7" fill="none" stroke="#333" stroke-width="0.9"/>
<path d="M406.7,341.2 C405,360 405,395 410.1,414.8" fill="none" stroke="#333" stroke-width="0.9"/>
<path d="M418.3,342.8 C422,355 421,375 414,395.3" fill="none" stroke="#333" stroke-width="0.9"/>
</svg>
</body></html>
